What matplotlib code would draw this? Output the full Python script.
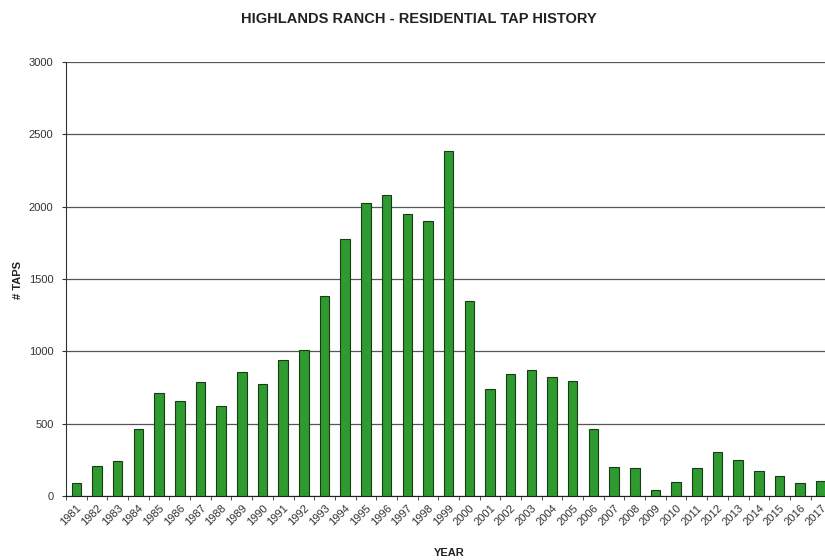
import matplotlib
matplotlib.use("Agg")
import matplotlib.pyplot as plt
import numpy as np

years = [str(y) for y in range(1981, 2018)]
taps = [90, 207, 242, 463, 712, 657, 788, 622, 857, 774,
        940, 1009, 1382, 1776, 2025, 2080, 1949, 1900, 2384, 1348,
        739, 843, 871, 822, 795, 463, 202, 196, 41, 95,
        196, 306, 249, 171, 138, 92, 106]
y_ticks = [0, 500, 1000, 1500, 2000, 2500, 3000]

plt.rcParams["font.family"] = ["Liberation Sans", "DejaVu Sans"]

fig = plt.figure(figsize=(8.25, 5.6), dpi=100)
ax = fig.add_axes([0.08, 0.1143, 0.9276, 0.775])

x = np.arange(len(years))
ax.bar(x, taps, width=0.46, color="#2f9a2f", edgecolor="#173d17", linewidth=0.8, zorder=3)

ax.set_xlim(-0.5, len(years) - 0.5)
ax.set_ylim(0, 3000)
ax.set_yticks(y_ticks)
ax.set_yticklabels([str(v) for v in y_ticks], fontsize=8, color="#333333")
ax.yaxis.grid(True, color="#555555", linewidth=0.9, zorder=0)

# year labels sit under the bars, ticks go between the categories
ax.set_xticks(x)
ax.set_xticklabels(years, rotation=45, ha="right", rotation_mode="anchor",
                   fontsize=8, color="#333333")
ax.tick_params(axis="x", length=0, pad=5)
ax.set_xticks(np.arange(-0.5, len(years) + 0.5, 1.0), minor=True)
ax.tick_params(axis="x", which="minor", length=3, color="#333333")
ax.tick_params(axis="y", length=3, color="#333333", pad=6)

for side in ["top", "right"]:
    ax.spines[side].set_visible(False)
ax.spines["left"].set_color("#333333")
ax.spines["bottom"].set_color("#222222")

fig.text(0.508, 0.966, "HIGHLANDS RANCH - RESIDENTIAL TAP HISTORY",
         ha="center", va="center", fontsize=10.5, fontweight="bold", color="#222222")
fig.text(0.022, 0.5, "# TAPS", rotation=90, ha="center", va="center",
         fontsize=8, fontweight="bold", color="#222222")
fig.text(0.545, 0.012, "YEAR", ha="center", va="center",
         fontsize=8, fontweight="bold", color="#222222")

fig.savefig("out.png", dpi=100)
